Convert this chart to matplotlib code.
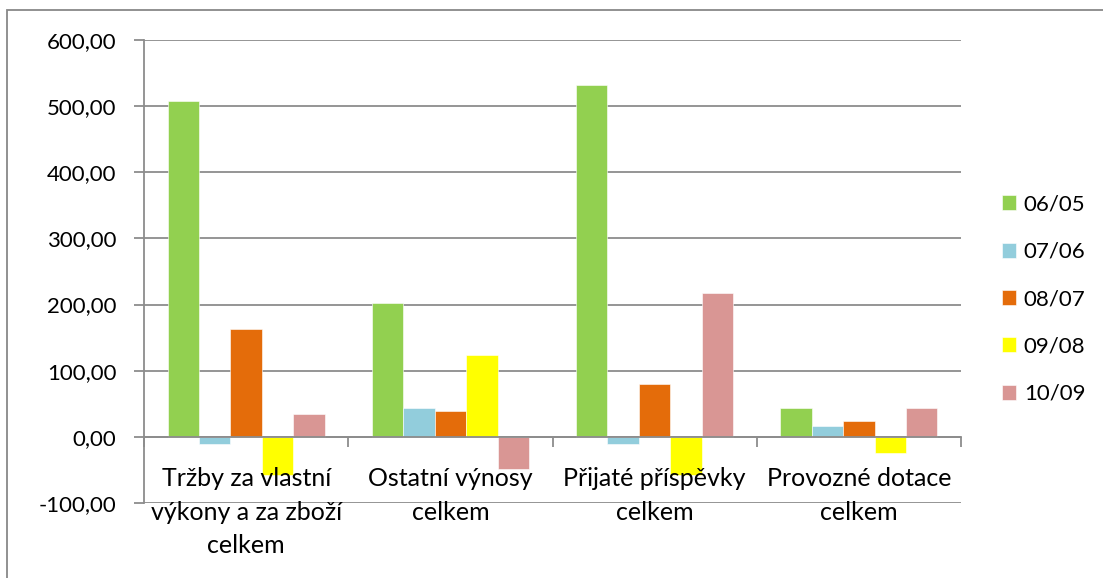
import numpy as np
import matplotlib
matplotlib.use("Agg")
from matplotlib import pyplot as plt
from matplotlib.patches import Rectangle

# Data
categories = [
    "Tržby za vlastní\nvýkony a za zboží\ncelkem",
    "Ostatní výnosy\ncelkem",
    "Přijaté příspěvky\ncelkem",
    "Provozné dotace\ncelkem",
]
series_names = ["06/05", "07/06", "08/07", "09/08", "10/09"]
v_06_05 = [508, 203, 532, 44]
v_07_06 = [-11, 44, -11, 17]
v_08_07 = [163, 39, 80, 24]
v_09_08 = [-57, 124, -58, -24]
v_10_09 = [35, -48, 218, 44]
series_values = [v_06_05, v_07_06, v_08_07, v_09_08, v_10_09]
colors = ["#92D050", "#92CDDC", "#E46C0A", "#FFFF00", "#D99694"]
y_ticks = [-100, 0, 100, 200, 300, 400, 500, 600]

plt.rcParams['font.family'] = ['Lato', 'DejaVu Sans']
W, H = 1103, 578
fig = plt.figure(figsize=(W / 100, H / 100), dpi=100)

# outer chart border (cut off at right/bottom like the reference)
fig.patches.append(Rectangle((7 / W, -0.1), 1.2, 1 - 10.5 / H + 0.1,
                             transform=fig.transFigure, fill=False,
                             edgecolor="#888888", linewidth=1.3))

left, right, top, bottom = 144, 961, 40, 503
ax = fig.add_axes([left / W, 1 - bottom / H, (right - left) / W, (bottom - top) / H])

n = len(series_names)
bar_w = 1 / (n + 1.5)
x = np.arange(len(categories))
for i, (name, vals, col) in enumerate(zip(series_names, series_values, colors)):
    offs = (i - (n - 1) / 2) * bar_w
    ax.bar(x + offs, vals, width=bar_w, color=col, label=name, zorder=2,
           edgecolor="white", linewidth=0.4)

ax.set_xlim(-0.5, len(categories) - 0.5)
ax.set_ylim(-100, 600)
ax.set_yticks(y_ticks)
ax.set_yticklabels([f"{t:.2f}".replace(".", ",") for t in y_ticks])
ax.yaxis.grid(True, color="#8c8c8c", linewidth=1.3, zorder=0)
ax.set_axisbelow(True)

for s in ["top", "right"]:
    ax.spines[s].set_visible(False)
ax.spines["left"].set_color("#8c8c8c")
ax.spines["left"].set_linewidth(1.3)
ax.spines["bottom"].set_position(("data", 0))
ax.spines["bottom"].set_color("#8c8c8c")
ax.spines["bottom"].set_linewidth(1.3)
ax.spines["bottom"].set_zorder(3)

# category boundaries as major ticks, labels at centers as minor ticks
ax.set_xticks(np.arange(len(categories) + 1) - 0.5)
ax.set_xticklabels([])
ax.set_xticks(x, minor=True)
ax.set_xticklabels(categories, minor=True, fontsize=18, linespacing=1.55)
ax.tick_params(axis="x", which="major", direction="out", length=7,
               color="#8c8c8c", width=1.3)
ax.tick_params(axis="x", which="minor", length=0, pad=22)
ax.tick_params(axis="y", direction="out", length=7, color="#8c8c8c",
               width=1.3, labelsize=16, pad=13)
# category labels drawn over the negative bars, as in the reference
ax.xaxis.set_zorder(4)

ax.legend(loc="center left", bbox_to_anchor=(1.036, 0.44), frameon=False,
          fontsize=16, handlelength=0.65, handleheight=0.65,
          handletextpad=0.35, labelspacing=1.23, borderpad=0)

fig.savefig("out.png", dpi=100)
